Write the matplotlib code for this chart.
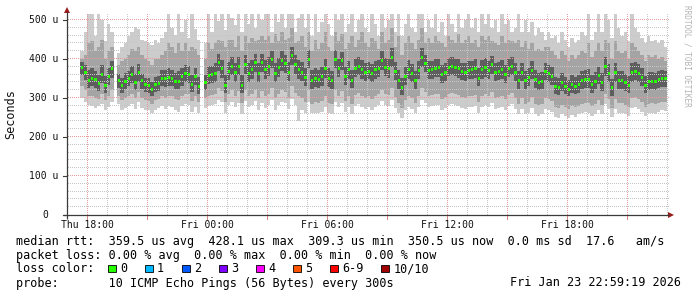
import numpy as np
import matplotlib
matplotlib.use("Agg")
import matplotlib.pyplot as plt
from matplotlib.patches import Rectangle, Polygon

nan = float("nan")

# ---------------- data ----------------
bin_start_min = 40      # first bin start, minutes after Thu 17:00
bin_len_min = 10        # minutes per bin

median_us = [
    377, 366, 345, 350, 347, 338, 360, 332, 356, 375,
    nan, 345, 333, 343, 350, 360, 340, 365, 344, 335,
    333, 322, 335, 337, 350, 350, 352, 350, 343, 343,
    354, 362, 360, 335, 356, 330, nan, 339, 358, 360,
    364, 392, 375, 332, 369, 381, 365, 381, 332, 386,
    364, 372, 390, 364, 390, 373, 380, 400, 362, 378,
    395, 388, 366, 410, 385, 372, 366, 352, 400, 345,
    350, 348, 354, 375, 350, 345, 400, 376, 395, 355,
    372, 346, 376, 381, 372, 365, 369, 362, 372, 376,
    395, 378, 375, 405, 368, 345, 328, 356, 372, 364,
    345, 370, 405, 388, 370, 373, 376, 377, 360, 366,
    378, 380, 378, 375, 367, 366, 371, 372, 375, 350,
    373, 378, 370, 385, 366, 369, 372, 360, 376, 380,
    365, 345, 366, 345, 352, 370, 348, 340, 343, 368,
    362, 356, 330, 328, 340, 330, 323, 335, 330, 335,
    345, 347, 348, 335, 343, 357, 340, 380, 362, 326,
    365, 345, 346, 339, 333, 365, 369, 362, 352, 333,
    342, 343, 342, 347, 350, 349,
]

ping_min_us = [
    300, 290, 282, 280, 275, 280, 285, 270, 278, 290,
    nan, 285, 270, 275, 280, 285, 272, 290, 275, 270,
    268, 262, 270, 275, 280, 272, 280, 278, 270, 265,
    280, 285, 282, 265, 278, 262, nan, 275, 280, 282,
    285, 295, 290, 262, 282, 290, 278, 288, 260, 292,
    278, 282, 292, 270, 288, 275, 282, 295, 268, 282,
    290, 288, 272, 298, 282, 240, 270, 262, 290, 262,
    262, 262, 265, 278, 262, 258, 290, 276, 288, 265,
    278, 258, 280, 285, 276, 272, 278, 270, 278, 282,
    292, 282, 280, 295, 275, 262, 250, 268, 278, 272,
    262, 278, 295, 288, 278, 280, 282, 282, 270, 275,
    282, 285, 282, 280, 275, 272, 278, 278, 280, 262,
    278, 282, 278, 288, 272, 275, 278, 270, 280, 285,
    272, 258, 272, 258, 262, 275, 258, 255, 258, 272,
    270, 265, 252, 250, 258, 255, 250, 256, 252, 258,
    262, 265, 262, 255, 260, 270, 258, 285, 272, 252,
    272, 262, 262, 258, 254, 275, 278, 272, 265, 255,
    262, 262, 260, 265, 268, 266,
]

ping_lo2_us = [
    330, 320, 305, 305, 300, 298, 310, 295, 305, 320,
    nan, 305, 295, 300, 305, 310, 300, 315, 300, 295,
    292, 285, 295, 298, 305, 300, 305, 305, 298, 295,
    305, 310, 310, 292, 305, 290, nan, 300, 305, 308,
    310, 325, 318, 290, 310, 320, 305, 318, 288, 320,
    305, 310, 320, 300, 318, 305, 310, 325, 300, 310,
    320, 315, 300, 330, 312, 305, 300, 290, 320, 285,
    290, 288, 292, 305, 288, 285, 320, 305, 318, 292,
    305, 285, 308, 312, 305, 300, 305, 298, 305, 310,
    320, 310, 308, 325, 302, 288, 275, 295, 305, 300,
    288, 305, 325, 315, 305, 308, 310, 310, 298, 302,
    310, 312, 310, 308, 302, 300, 305, 305, 308, 290,
    305, 310, 305, 315, 300, 302, 305, 298, 308, 312,
    300, 285, 300, 285, 290, 302, 285, 282, 284, 300,
    298, 292, 278, 275, 282, 278, 272, 280, 278, 280,
    285, 288, 288, 280, 285, 295, 282, 310, 298, 275,
    298, 288, 286, 282, 278, 300, 302, 298, 290, 278,
    285, 286, 285, 288, 290, 290,
]

ping_lo4_us = [
    360, 345, 325, 330, 326, 318, 338, 312, 334, 352,
    nan, 325, 314, 322, 330, 338, 320, 342, 324, 316,
    314, 304, 315, 318, 330, 328, 330, 330, 322, 322,
    332, 340, 338, 315, 334, 310, nan, 320, 336, 338,
    342, 368, 352, 312, 346, 358, 342, 358, 312, 362,
    342, 350, 366, 342, 366, 350, 356, 376, 340, 354,
    370, 364, 344, 385, 362, 350, 344, 330, 376, 324,
    328, 326, 332, 352, 328, 324, 376, 354, 372, 334,
    350, 325, 354, 358, 350, 344, 348, 340, 350, 354,
    372, 356, 352, 380, 346, 324, 308, 334, 350, 342,
    324, 348, 380, 366, 348, 350, 354, 354, 338, 344,
    356, 358, 356, 352, 345, 344, 348, 350, 352, 330,
    350, 355, 348, 362, 344, 346, 350, 338, 354, 358,
    344, 324, 344, 324, 330, 348, 326, 320, 322, 346,
    340, 334, 310, 308, 318, 310, 304, 314, 310, 314,
    324, 326, 326, 314, 322, 335, 318, 356, 340, 306,
    342, 324, 324, 318, 312, 342, 346, 340, 330, 312,
    320, 322, 320, 325, 328, 328,
]

ping_hi7_us = [
    392, 385, 372, 378, 370, 360, 385, 356, 378, 395,
    nan, 362, 352, 365, 370, 382, 362, 388, 362, 352,
    352, 342, 355, 356, 372, 372, 378, 372, 365, 368,
    378, 385, 382, 360, 378, 355, nan, 360, 382, 382,
    390, 412, 398, 360, 392, 405, 390, 405, 358, 410,
    390, 398, 412, 390, 412, 398, 405, 420, 390, 402,
    420, 410, 392, 432, 410, 398, 392, 378, 422, 372,
    378, 372, 380, 400, 376, 370, 422, 400, 418, 380,
    396, 372, 400, 405, 398, 390, 392, 388, 396, 398,
    420, 402, 400, 428, 392, 372, 352, 380, 398, 388,
    370, 395, 428, 410, 395, 396, 400, 400, 385, 390,
    402, 405, 400, 400, 390, 390, 396, 395, 400, 376,
    398, 402, 395, 408, 390, 392, 398, 385, 400, 404,
    390, 370, 390, 370, 376, 394, 372, 364, 366, 390,
    385, 380, 355, 352, 364, 354, 346, 358, 354, 358,
    370, 372, 374, 360, 366, 380, 364, 405, 386, 350,
    390, 370, 370, 362, 356, 390, 392, 386, 376, 356,
    366, 366, 365, 370, 372, 370,
]

ping_hi9_us = [
    400, 410, 440, 445, 420, 430, 450, 400, 420, 430,
    nan, 385, 395, 400, 410, 425, 420, 430, 410, 400,
    395, 385, 400, 400, 410, 420, 440, 430, 415, 440,
    420, 440, 420, 430, 425, 410, nan, 400, 440, 425,
    440, 450, 445, 430, 450, 450, 430, 460, 420, 460,
    440, 455, 445, 450, 460, 450, 460, 440, 465, 445,
    470, 450, 455, 480, 440, 445, 460, 430, 470, 420,
    450, 425, 440, 470, 430, 420, 470, 445, 465, 425,
    440, 460, 430, 450, 470, 440, 430, 455, 445, 425,
    470, 440, 450, 480, 430, 460, 410, 440, 460, 440,
    425, 450, 480, 440, 455, 440, 460, 445, 440, 430,
    460, 450, 440, 465, 440, 450, 460, 440, 450, 430,
    460, 450, 460, 445, 440, 435, 460, 440, 450, 445,
    440, 450, 430, 445, 425, 440, 420, 425, 420, 430,
    430, 420, 410, 400, 420, 410, 395, 410, 400, 410,
    420, 415, 440, 405, 420, 440, 420, 450, 440, 400,
    445, 420, 415, 420, 400, 440, 430, 420, 410, 395,
    410, 405, 410, 400, 405, 395,
]

ping_max_us = [
    420, 470, 515, 515, 460, 515, 500, 445, 490, 470,
    nan, 415, 430, 440, 458, 470, 482, 478, 450, 445,
    440, 435, 448, 440, 455, 470, 515, 480, 462, 515,
    470, 500, 455, 515, 478, 450, nan, 440, 515, 470,
    515, 498, 515, 475, 515, 505, 488, 515, 470, 515,
    490, 515, 480, 515, 500, 515, 515, 470, 515, 495,
    515, 480, 515, 515, 470, 505, 515, 480, 515, 460,
    515, 470, 495, 515, 490, 460, 515, 500, 515, 470,
    490, 515, 470, 500, 515, 480, 470, 515, 490, 460,
    515, 480, 500, 515, 470, 515, 460, 490, 515, 480,
    470, 515, 515, 470, 500, 480, 515, 470, 495, 460,
    515, 490, 470, 515, 480, 500, 515, 480, 505, 470,
    515, 490, 515, 480, 500, 470, 515, 490, 500, 470,
    480, 515, 470, 500, 470, 495, 460, 480, 470, 450,
    470, 455, 460, 440, 470, 450, 430, 455, 440, 450,
    470, 460, 515, 450, 470, 515, 470, 515, 500, 455,
    515, 480, 460, 470, 445, 515, 480, 470, 455, 440,
    460, 445, 450, 440, 450, 430,
]

x_tick_min = [60, 420, 780, 1140, 1500]
x_tick_labels = ["Thu 18:00", "Fri 00:00", "Fri 06:00", "Fri 12:00", "Fri 18:00"]
y_tick_values = [0, 100, 200, 300, 400, 500]
y_tick_labels = ["0", "100 u", "200 u", "300 u", "400 u", "500 u"]

loss_labels = ["0", "1", "2", "3", "4", "5", "6-9", "10/10"]
loss_colors = ["#26ff00", "#00b8ff", "#0059ff", "#7e00ff", "#ff00ff",
               "#ff5500", "#ff0000", "#a10000"]

line_rtt = ("median rtt:  359.5 us avg  428.1 us max  309.3 us min  "
            "350.5 us now  0.0 ms sd  17.6   am/s")
line_loss = "packet loss: 0.00 % avg  0.00 % max  0.00 % min  0.00 % now"
line_probe = "probe:       10 ICMP Echo Pings (56 Bytes) every 300s"
stamp = "Fri Jan 23 22:59:19 2026"

# ---------------- figure ----------------
W, H = 697, 297
fig = plt.figure(figsize=(W / 100, H / 100), dpi=100, facecolor="white")
MONO = "DejaVu Sans Mono"

X_MAX = 1803            # minutes shown (601 px)
Y_MAX = 201 / 0.39      # microseconds shown (201 px)
PX_X = X_MAX / 601      # data units per pixel
PX_Y = Y_MAX / 201

ax = fig.add_axes([67 / W, 1 - 215 / H, 601 / W, 201 / H])
ax.set_xlim(0, X_MAX)
ax.set_ylim(0, Y_MAX)
for s in ax.spines.values():
    s.set_visible(False)
ax.set_xticks([])
ax.set_yticks([])
ax.patch.set_facecolor("white")

med = np.array(median_us, dtype=float)
p1 = np.array(ping_min_us, dtype=float)
p2 = np.array(ping_lo2_us, dtype=float)
p4 = np.array(ping_lo4_us, dtype=float)
p7 = np.array(ping_hi7_us, dtype=float)
p9 = np.array(ping_hi9_us, dtype=float)
p10 = np.array(ping_max_us, dtype=float)
t = bin_start_min + bin_len_min * np.arange(len(med))

valid = ~np.isnan(med)
runs = []
i = 0
while i < len(valid):
    if valid[i]:
        j = i
        while j < len(valid) and valid[j]:
            j += 1
        runs.append((i, j))
        i = j
    else:
        i += 1


def smoke(lo, hi, color, z):
    for s, e in runs:
        xs = np.append(t[s:e], t[e - 1] + bin_len_min)
        ylo = np.append(lo[s:e], lo[e - 1])
        yhi = np.append(hi[s:e], hi[e - 1])
        ax.fill_between(xs, ylo, yhi, step="post", color=color,
                        linewidth=0, zorder=z)


smoke(p1, p10, "#cccccc", 1)
smoke(p2, p9, "#a4a4a4", 1.1)
smoke(p4, p7, "#5e5e5e", 1.2)

# dotted grid drawn as single pixels (one on, one off)
minor_c = "#c6c6c6"
major_c = "#e59a9a"
gx = np.arange(PX_X * 0.5, X_MAX, 2 * PX_X)
gy = np.arange(PX_Y * 0.5, Y_MAX, 2 * PX_Y)
for v in range(20, 520, 20):
    c = major_c if v % 100 == 0 else minor_c
    ax.plot(gx, np.full_like(gx, v), ls="none", marker=",", color=c,
            zorder=2)
for m in range(60, X_MAX, 60):
    c = major_c if (m - 60) % 180 == 0 else minor_c
    ax.plot(np.full_like(gy, m), gy, ls="none", marker=",", color=c,
            zorder=2)

# median line (green blocks)
hb = 3.0 * PX_Y
ax.bar(t[valid] + 1.5, hb, bottom=med[valid] - hb / 2, width=bin_len_min * 0.75,
       align="edge", color=loss_colors[0], linewidth=0, zorder=4)

# ---------------- overlay in pixel coordinates ----------------
ov = fig.add_axes([0, 0, 1, 1], zorder=5)
ov.set_xlim(0, W)
ov.set_ylim(H, 0)
ov.axis("off")
ov.patch.set_alpha(0)

axis_c = "#3a3a3a"
arrow_c = "#9b1c1c"
ov.plot([67, 67], [219, 12], color=axis_c, lw=0.9, solid_capstyle="butt")
ov.plot([63, 669], [215, 215], color=axis_c, lw=0.9, solid_capstyle="butt")
ov.add_patch(Polygon([[64, 13], [70, 13], [67, 7]], closed=True,
                     color=arrow_c, lw=0))
ov.add_patch(Polygon([[668, 212], [668, 218], [674, 215]], closed=True,
                     color=arrow_c, lw=0))

# y ticks and labels
for v, lab in zip(y_tick_values, y_tick_labels):
    y = 215 - 0.39 * v
    ov.plot([63, 67], [y, y], color=axis_c, lw=0.8)
    xr = 58 if lab != "0" else 48
    ov.text(xr, y, lab, ha="right", va="center", fontsize=7,
            family=MONO, color="#111111")

# x ticks and labels
for m, lab in zip(x_tick_min, x_tick_labels):
    x = 67 + m / 3
    ov.text(x, 225, lab, ha="center", va="center", fontsize=7,
            family=MONO, color="#111111")
for m in range(60, X_MAX, 180):
    x = 67 + m / 3
    ov.plot([x, x], [216, 219], color="#d08080", lw=0.7)

ov.text(11, 114, "Seconds", rotation=90, ha="center", va="center",
        fontsize=8.5, family=MONO, color="#111111")
ov.text(687, 5, "RRDTOOL / TOBI OETIKER", rotation=270, ha="center",
        va="top", fontsize=5.6, family=MONO, color="#b4b4b4")

# legend lines
ov.text(16, 241, line_rtt, ha="left", va="center", fontsize=8.5,
        family=MONO, color="black")
ov.text(16, 255, line_loss, ha="left", va="center", fontsize=8.5,
        family=MONO, color="black")
ov.text(16, 269, "loss color:", ha="left", va="center", fontsize=8.5,
        family=MONO, color="black")
x0 = 108
for lab, col in zip(loss_labels, loss_colors):
    ov.add_patch(Rectangle((x0, 264.5), 7.5, 7.5, facecolor=col,
                           edgecolor="black", lw=0.6))
    ov.text(x0 + 12, 269, lab, ha="left", va="center", fontsize=8.5,
            family=MONO, color="black")
    x0 += 37 + 7.1 * (len(lab) - 1)
ov.text(16, 283, line_probe, ha="left", va="center", fontsize=8.5,
        family=MONO, color="black")
ov.text(681, 283, stamp, ha="right", va="center", fontsize=8.5,
        family=MONO, color="black")

fig.savefig("out.png", dpi=100, facecolor="white")
